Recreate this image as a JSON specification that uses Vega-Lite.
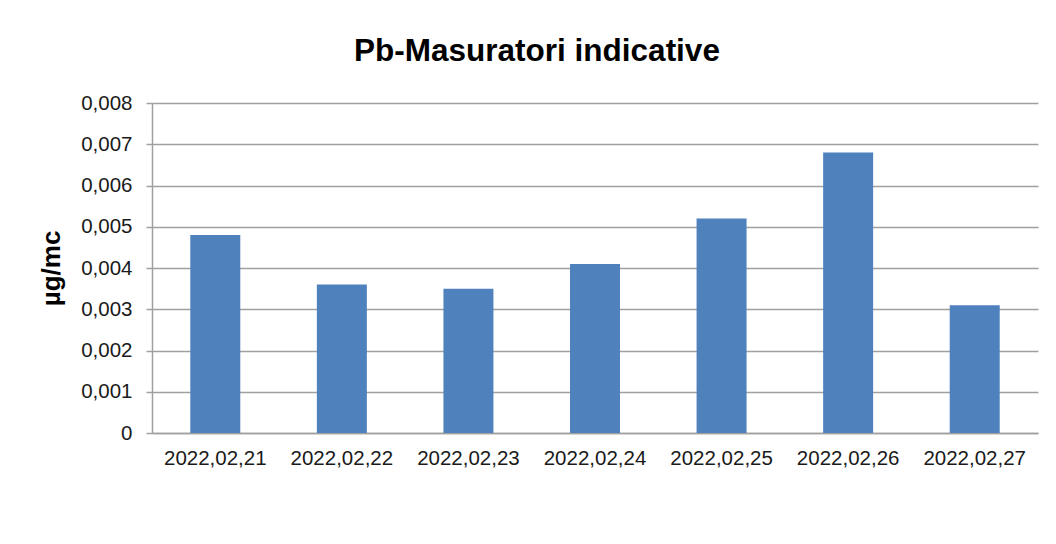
{
  "$schema": "https://vega.github.io/schema/vega-lite/v6.json",
  "width": 886,
  "height": 330,
  "autosize": {"type": "none"},
  "padding": {"left": 152, "top": 103, "right": 18, "bottom": 111},
  "background": "#ffffff",
  "title": {
    "text": "Pb-Masuratori indicative",
    "font": "Liberation Sans",
    "fontSize": 31.5,
    "fontWeight": "bold",
    "color": "#000000",
    "anchor": "middle",
    "dx": -58,
    "offset": 26
  },
  "data": {
    "values": [
      {"data": "2022,02,21", "valoare": 0.0048},
      {"data": "2022,02,22", "valoare": 0.0036},
      {"data": "2022,02,23", "valoare": 0.0035},
      {"data": "2022,02,24", "valoare": 0.0041},
      {"data": "2022,02,25", "valoare": 0.0052},
      {"data": "2022,02,26", "valoare": 0.0068},
      {"data": "2022,02,27", "valoare": 0.0031}
    ]
  },
  "mark": {"type": "bar", "color": "#4F81BD"},
  "encoding": {
    "x": {
      "field": "data",
      "type": "nominal",
      "sort": null,
      "scale": {"paddingInner": 0.605, "paddingOuter": 0.3025},
      "axis": {
        "title": null,
        "labelAngle": 0,
        "labelFont": "Liberation Sans",
        "labelFontSize": 20.5,
        "labelColor": "#1a1a1a",
        "labelPadding": 15,
        "ticks": false,
        "domainColor": "#a0a0a0",
        "domainWidth": 1.5
      }
    },
    "y": {
      "field": "valoare",
      "type": "quantitative",
      "scale": {"domain": [0, 0.008], "nice": false},
      "axis": {
        "title": "µg/mc",
        "titleFont": "Liberation Sans",
        "titleFontSize": 26,
        "titleFontWeight": "bold",
        "titleColor": "#000000",
        "titlePadding": 16,
        "values": [0, 0.001, 0.002, 0.003, 0.004, 0.005, 0.006, 0.007, 0.008],
        "labelExpr": "datum.value == 0 ? '0' : replace(format(datum.value, '.3f'), '.', ',')",
        "labelFont": "Liberation Sans",
        "labelFontSize": 20.5,
        "labelColor": "#1a1a1a",
        "labelPadding": 14,
        "tickSize": 6,
        "tickColor": "#a0a0a0",
        "tickWidth": 1.5,
        "domainColor": "#a0a0a0",
        "domainWidth": 1.5,
        "grid": true,
        "gridColor": "#a0a0a0",
        "gridWidth": 1.5
      }
    }
  },
  "config": {"view": {"stroke": null}}
}
